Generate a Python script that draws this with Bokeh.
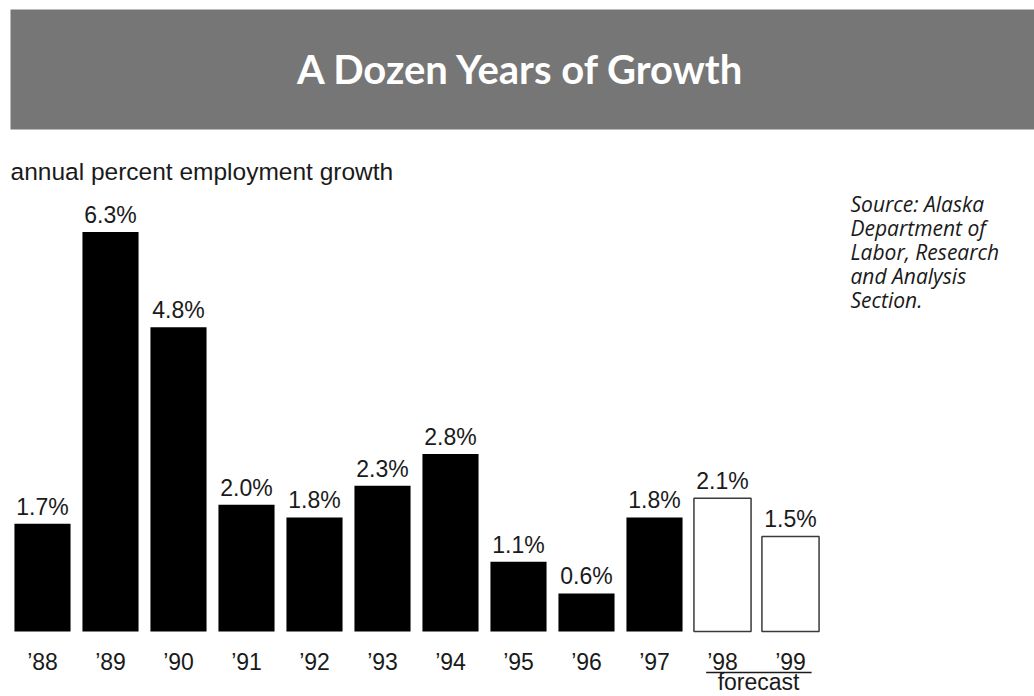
from bokeh.plotting import figure
from bokeh.models import Range1d, ColumnDataSource
from bokeh.core.properties import value
from bokeh.embed import file_html
from bokeh.resources import INLINE

# ---- data ----
years = ["’88", "’89", "’90", "’91", "’92", "’93", "’94", "’95", "’96", "’97", "’98", "’99"]
growth = [1.7, 6.3, 4.8, 2.0, 1.8, 2.3, 2.8, 1.1, 0.6, 1.8, 2.1, 1.5]
is_forecast = [False] * 10 + [True, True]
title_text = "A Dozen Years of Growth"
subtitle_text = "annual percent employment growth"
source_lines = ["Source: Alaska", "Department of", "Labor, Research", "and Analysis", "Section."]
forecast_text = "forecast"

# ---- geometry ----
W, H = 1034, 696
PITCH = 68.0          # px per category
SCALE = 63.4          # px per percent
BASE = 631            # y of zero line
X0 = 42               # x of first bar centre

def px_x(px):
    return (px - X0) / PITCH

def px_y(py):
    return (BASE - py) / SCALE

p = figure(width=W, height=H, output_backend="svg", toolbar_location=None,
           x_range=Range1d(px_x(0), px_x(W)),
           y_range=Range1d(px_y(H), px_y(0)),
           x_axis_type=None, y_axis_type=None, min_border=0)
p.min_border_left = p.min_border_right = p.min_border_top = p.min_border_bottom = 0
p.outline_line_color = None
p.xgrid.visible = False
p.ygrid.visible = False
p.background_fill_color = "white"
p.border_fill_color = "white"

idx = list(range(len(years)))
hist = ColumnDataSource(dict(x=[i for i in idx if not is_forecast[i]],
                             top=[growth[i] for i in idx if not is_forecast[i]]))
fc = ColumnDataSource(dict(x=[i for i in idx if is_forecast[i]],
                           top=[growth[i] for i in idx if is_forecast[i]]))

TXT = "#1a1a1a"

# banner
p.quad(left=px_x(10), right=px_x(1040), top=px_y(9), bottom=px_y(129),
       fill_color="#767676", line_color=None)
p.text(x=[px_x(521)], y=[px_y(68)], text=[title_text], text_align="center",
       text_baseline="middle", text_font=value("Lato"), text_font_style="bold",
       text_font_size="40px", text_color="white")

# subtitle
p.text(x=[px_x(10)], y=[px_y(171)], text=[subtitle_text], text_align="left",
       text_baseline="middle", text_font=value("Liberation Sans"),
       text_font_size="24.5px", text_color=TXT)

# source
p.text(x=[px_x(850)] * len(source_lines),
       y=[px_y(203 + 24.2 * k) for k in range(len(source_lines))],
       text=source_lines, text_align="left", text_baseline="middle",
       text_font=value("Open Sans"), text_font_style="italic",
       text_font_size="21px", text_color=TXT)

# bars
p.vbar(x="x", top="top", bottom=0, width=0.825, source=hist,
       fill_color="black", line_color=None)
p.vbar(x="x", top="top", bottom=0, width=0.84, source=fc,
       fill_color="white", line_color="#3a3a3a", line_width=1.5)

# value labels
p.text(x=idx, y=growth, text=[f"{v:.1f}%" for v in growth], y_offset=-17,
       text_align="center", text_baseline="middle",
       text_font=value("Liberation Sans"), text_font_size="23px", text_color=TXT)

# year labels
p.text(x=idx, y=[px_y(661)] * len(idx), text=years, text_align="center",
       text_baseline="middle", text_font=value("Liberation Sans"),
       text_font_size="23px", text_color=TXT)

# forecast bracket
fidx = [i for i in idx if is_forecast[i]]
p.segment(x0=[min(fidx) - 0.24], x1=[max(fidx) + 0.31], y0=[px_y(672)], y1=[px_y(672)],
          line_color=TXT, line_width=1.5)
p.text(x=[(min(fidx) + max(fidx)) / 2 + 0.03], y=[px_y(681)], text=[forecast_text],
       text_align="center", text_baseline="middle",
       text_font=value("Liberation Sans"), text_font_size="23px", text_color=TXT)

open("out.html", "w").write(file_html(p, INLINE))
